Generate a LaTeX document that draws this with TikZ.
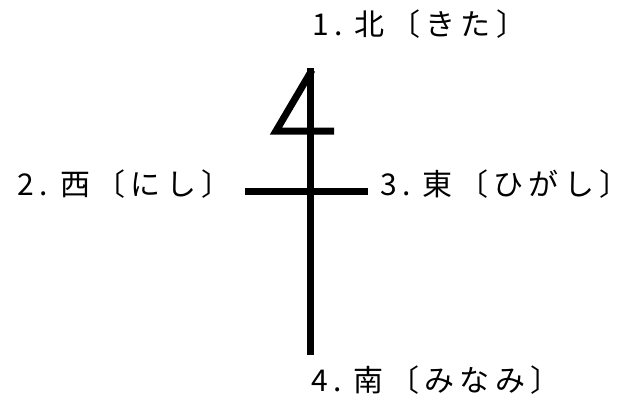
\documentclass[tikz,border=0pt]{standalone}
\usepackage{fontspec}
\newfontfamily\jpfont[LetterSpace=18]{Noto Sans CJK JP}
\usetikzlibrary{positioning}
\definecolor{dirInk}{HTML}{000000}
\tikzset{
  dir stroke/.style={draw=dirInk, line width=7pt},
  dir label/.style={font=\jpfont\fontsize{30}{33}\selectfont, text=dirInk, inner sep=0pt},
}

\begin{document}
\begin{tikzpicture}[x=1pt, y=-1pt]
  \useasboundingbox (0,0) rectangle (630,408);

  % the four strokes: vertical, cross bar, and the hooked top
  \coordinate (north) at (310,68);
  \coordinate (south) at (310,355);
  \coordinate (west) at (245,191);
  \coordinate (east) at (368,191);
  \coordinate (hook) at (276,131);
  \coordinate (hookend) at (334,131);
  \draw[dir stroke] (north) -- (south);
  \draw[dir stroke] (west) -- (east);
  \draw[dir stroke, line join=miter] (312,70) -- (hook) -- (hookend);

  % labels at the ends
  \node[dir label, anchor=west] (lblN) at (312,24) {1.~北〔きた〕};
  \node[dir label, anchor=east] (lblW) at (232,184) {2.~西〔にし〕};
  \node[dir label, anchor=west] (lblE) at (380,184) {3.~東〔ひがし〕};
  \node[dir label, anchor=west] (lblS) at (311,380) {4.~南〔みなみ〕};
\end{tikzpicture}
\end{document}
